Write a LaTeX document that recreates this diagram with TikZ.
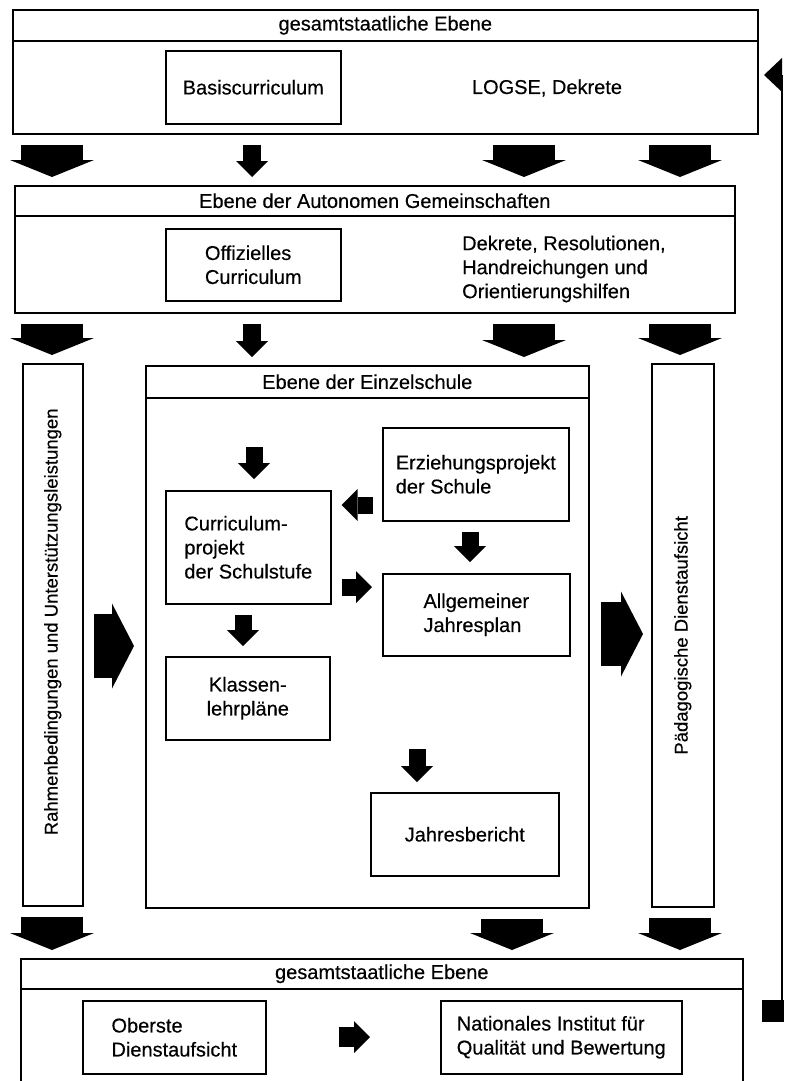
\documentclass[tikz,border=0pt]{standalone}
\usepackage{fontspec}
\setmainfont{Liberation Sans}[FakeBold=0.4]
\usetikzlibrary{arrows.meta,positioning}

\begin{document}
\begin{tikzpicture}[x=1pt,y=-1pt,font=\fontsize{20}{24}\selectfont,
  box/.style={draw,line width=1.6pt,inner sep=0pt,anchor=north west},
  txt/.style={align=left,inner sep=0pt},
  vtxt/.style={rotate=90,inner sep=0pt,font=\fontsize{18.5}{22}\selectfont},
  lvl/.style={shorten <=10pt,shorten >=8pt},
  bigdown/.style={lvl,line width=62pt,-{Triangle[length=17pt,width=84pt,line width=0pt]}},
  thindown/.style={lvl,line width=18pt,-{Triangle[length=16pt,width=32pt,line width=0pt]}},
  minor/.style={shorten <=10pt,shorten >=10pt,line width=17pt,-{Triangle[length=16pt,width=32pt,line width=0pt]}},
  sidearrow/.style={line width=64pt,-{Triangle[length=22pt,width=85pt,line width=0pt]}}]
  \useasboundingbox (0,0) rectangle (788,1081);

  % columns of the level arrows
  \coordinate (cA) at (52,0);
  \coordinate (cB) at (252,0);
  \coordinate (cC) at (524,0);
  \coordinate (cD) at (680,0);
  \coordinate (cE) at (512,0);

  % national level (top)
  \node[box,minimum width=745pt,minimum height=124pt] (nat) at (12,9) {};
  \node[box,minimum width=745pt,minimum height=31pt] (natT) at (12,9) {gesamtstaatliche Ebene};
  \node[box,minimum width=175pt,minimum height=73pt] (basis) at (165,50) {Basiscurriculum};
  \node[txt] (logse) at (547,88) {LOGSE, Dekrete};

  % regional level
  \node[box,minimum width=720pt,minimum height=127pt] (auto) at (14,185) {};
  \node[box,minimum width=720pt,minimum height=30pt] (autoT) at (14,185) {Ebene der Autonomen Gemeinschaften};
  \node[box,minimum width=175pt,minimum height=72pt,align=left] (offiz) at (165,228) {Offizielles\\Curriculum};
  \node[txt,anchor=west] (dekr) at (462,269) {Dekrete, Resolutionen,\\Handreichungen und\\Orientierungshilfen};

  % side columns
  \node[box,minimum width=60pt,minimum height=542pt] (lcol) at (22,363) {};
  \node[vtxt] at ([yshift=13pt]lcol.center) {Rahmenbedingungen und Unterstützungsleistungen};
  \node[box,minimum width=62pt,minimum height=543pt] (rcol) at (651,363) {};
  \node[vtxt] at (rcol.center) {Pädagogische Dienstaufsicht};

  % school level
  \node[box,minimum width=443pt,minimum height=542pt] (school) at (145,365) {};
  \node[box,minimum width=443pt,minimum height=32pt] (schoolT) at (145,365) {Ebene der Einzelschule};
  \node[box,minimum width=165pt,minimum height=113pt,align=left] (curr) at (165,490) {Curriculum-\\projekt\\der Schulstufe};
  \node[box,minimum width=186pt,minimum height=93pt,align=left] (erz) at (382,427) {Erziehungsprojekt\\der Schule};
  \node[box,minimum width=187pt,minimum height=82pt,align=left] (allg) at (382,573) {Allgemeiner\\Jahresplan};
  \node[box,minimum width=164pt,minimum height=83pt,align=center] (klas) at (165,656) {Klassen-\\lehrpläne};
  \node[box,minimum width=188pt,minimum height=83pt] (jahr) at (370,792) {Jahresbericht};
  \coordinate (currin) at (254,447);
  \coordinate (jahrin) at (417,749);

  % national level (bottom)
  \node[box,minimum width=722pt,minimum height=130pt] (bot) at (20,958) {};
  \node[box,minimum width=722pt,minimum height=30pt] (botT) at (20,958) {gesamtstaatliche Ebene};
  \node[box,minimum width=183pt,minimum height=73pt,align=left] (ober) at (82,1000) {Oberste\\Dienstaufsicht};
  \node[box,minimum width=241pt,minimum height=73pt,align=left] (inst) at (440,1000) {Nationales Institut für\\Qualität und Bewertung};

  % level to level
  \draw[bigdown] (nat.south -| cA) -- (auto.north -| cA);
  \draw[thindown] (nat.south -| cB) -- (auto.north -| cB);
  \draw[bigdown] (nat.south -| cC) -- (auto.north -| cC);
  \draw[bigdown] (nat.south -| cD) -- (auto.north -| cD);
  \draw[bigdown] (auto.south -| cA) -- (lcol.north -| cA);
  \draw[thindown] (auto.south -| cB) -- (school.north -| cB);
  \draw[bigdown] (auto.south -| cC) -- (school.north -| cC);
  \draw[bigdown] (auto.south -| cD) -- (rcol.north -| cD);
  \draw[bigdown] (lcol.south -| cA) -- (bot.north -| cA);
  \draw[bigdown] (school.south -| cE) -- (bot.north -| cE);
  \draw[bigdown] (rcol.south -| cD) -- (bot.north -| cD);

  % inside the school
  \draw[minor,shorten <=0pt,shorten >=11pt] (currin) -- (curr.north -| currin);
  \draw[minor,shorten <=9pt] (erz.west |- 0,505) -- (curr.east |- 0,505);
  \draw[minor,shorten >=11pt] (erz.south -| 470,0) -- (allg.north -| 470,0);
  \draw[minor] (curr.east |- 0,587) -- (allg.west |- 0,587);
  \draw[minor] (curr.south -| 243,0) -- (klas.north -| 243,0);
  \draw[minor,shorten <=0pt] (jahrin) -- (jahr.north -| jahrin);
  \draw[sidearrow,shorten <=10pt,shorten >=11pt] (lcol.east |- 0,646) -- (school.west |- 0,646);
  \draw[sidearrow,shorten <=11pt,shorten >=8pt] (school.east |- 0,634) -- (rcol.west |- 0,634);
  \draw[minor,line width=20pt,shorten <=72pt,shorten >=70pt] (ober.east |- 0,1037) -- (inst.west |- 0,1037);

  % feedback line on the right
  \node[fill,minimum size=22pt,inner sep=0pt] (fbsq) at (773,1011) {};
  \coordinate (fbtip) at (764,75);
  \draw[line width=2.5pt,-{Triangle[length=18pt,width=34pt,line width=0pt]}] (fbsq.north -| 782,0) |- (fbtip);
\end{tikzpicture}
\end{document}
